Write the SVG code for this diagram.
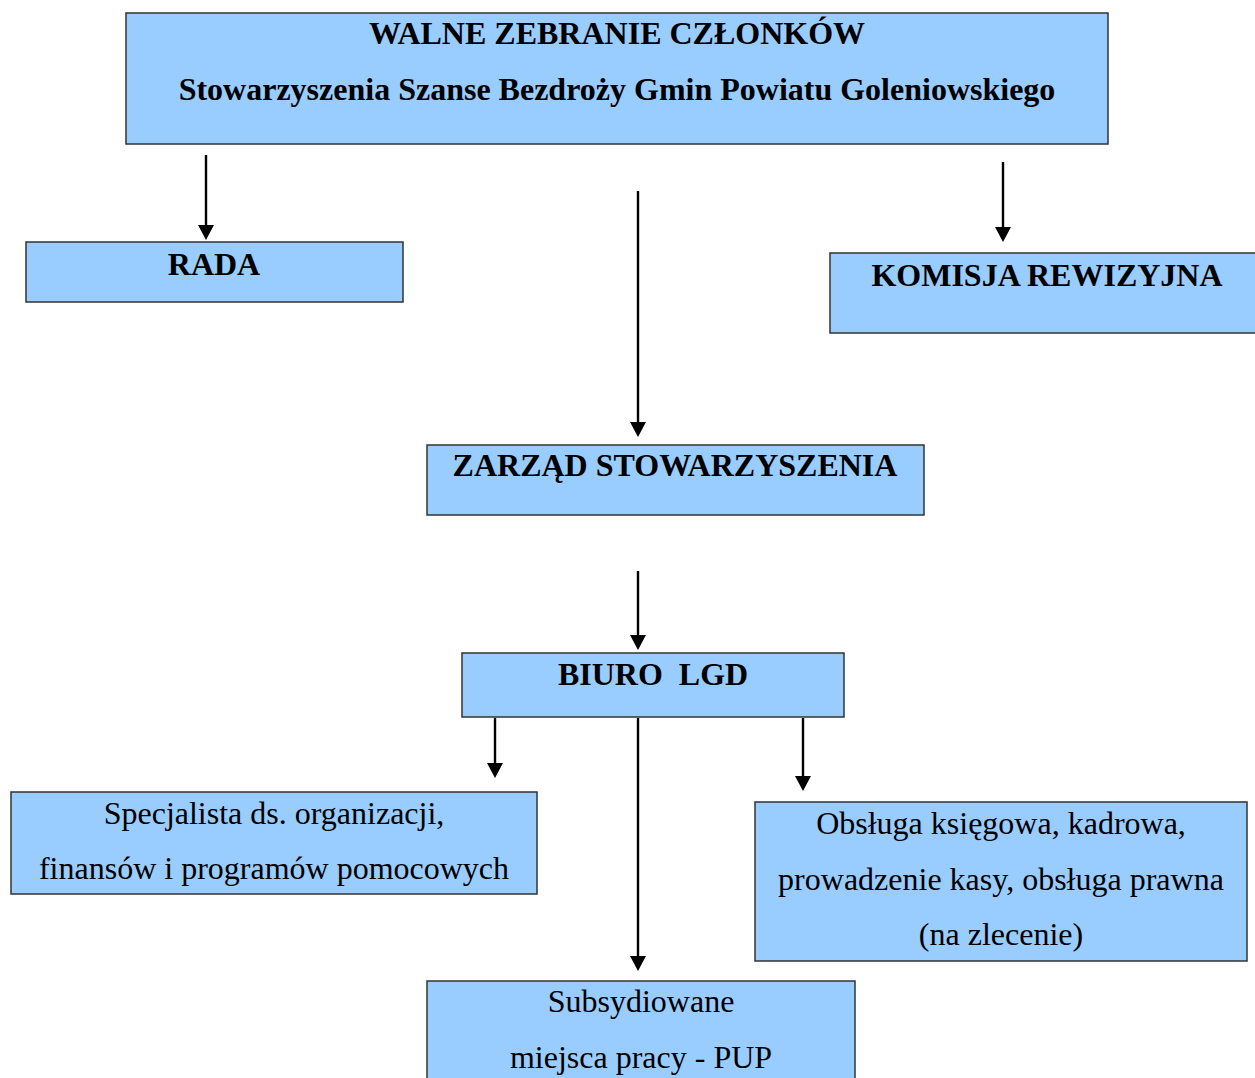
<svg xmlns="http://www.w3.org/2000/svg" width="1255" height="1078" viewBox="0 0 1255 1078">
<style>
.box{fill:#99CCFF;stroke:#333333;stroke-width:1.5}
.t{font-family:"Liberation Serif","Times New Roman",serif;font-size:32px;fill:#000;text-anchor:middle}
.b{font-weight:bold}
.conn line{stroke:#000;stroke-width:2.4}
</style>
<defs>
<marker id="ah" markerUnits="userSpaceOnUse" markerWidth="16" markerHeight="16" refX="7" refY="8" orient="auto">
<path d="M0,0 L15,8 L0,16 z" fill="#000"/>
</marker>
</defs>
<rect width="1255" height="1078" fill="#fff"/>
<g id="walne">
<rect class="box" x="126" y="13" width="982" height="131"/>
<text class="t b" x="617" y="44">WALNE ZEBRANIE CZŁONKÓW</text>
<text class="t b" x="617" y="100">Stowarzyszenia Szanse Bezdroży Gmin Powiatu Goleniowskiego</text>
</g>
<g id="rada">
<rect class="box" x="26" y="242" width="377" height="60"/>
<text class="t b" x="214" y="275">RADA</text>
</g>
<g id="komisja">
<rect class="box" x="830" y="253" width="434" height="80"/>
<text class="t b" x="1047" y="286">KOMISJA REWIZYJNA</text>
</g>
<g id="zarzad">
<rect class="box" x="427" y="445" width="497" height="70"/>
<text class="t b" x="675" y="476">ZARZĄD STOWARZYSZENIA</text>
</g>
<g id="biuro">
<rect class="box" x="462" y="653" width="382" height="64"/>
<text class="t b" x="653" y="685" xml:space="preserve">BIURO  LGD</text>
</g>
<g id="specjalista">
<rect class="box" x="11" y="792" width="526" height="102"/>
<text class="t" x="274" y="824">Specjalista ds. organizacji,</text>
<text class="t" x="274" y="879">finansów i programów pomocowych</text>
</g>
<g id="obsluga">
<rect class="box" x="755" y="802" width="492" height="159"/>
<text class="t" x="1001" y="834">Obsługa księgowa, kadrowa,</text>
<text class="t" x="1001" y="890">prowadzenie kasy, obsługa prawna</text>
<text class="t" x="1001" y="945">(na zlecenie)</text>
</g>
<g id="subsydiowane">
<rect class="box" x="427" y="981" width="428" height="110"/>
<text class="t" x="641" y="1012">Subsydiowane</text>
<text class="t" x="641" y="1068">miejsca pracy - PUP</text>
</g>
<g id="connectors" class="conn">
<line x1="206" y1="155" x2="206" y2="232" marker-end="url(#ah)"/>
<line x1="638" y1="191" x2="638" y2="429" marker-end="url(#ah)"/>
<line x1="1003" y1="162" x2="1003" y2="234" marker-end="url(#ah)"/>
<line x1="638" y1="571" x2="638" y2="642" marker-end="url(#ah)"/>
<line x1="495" y1="718" x2="495" y2="770" marker-end="url(#ah)"/>
<line x1="638" y1="718" x2="638" y2="963" marker-end="url(#ah)"/>
<line x1="803" y1="718" x2="803" y2="783" marker-end="url(#ah)"/>
</g>
</svg>
